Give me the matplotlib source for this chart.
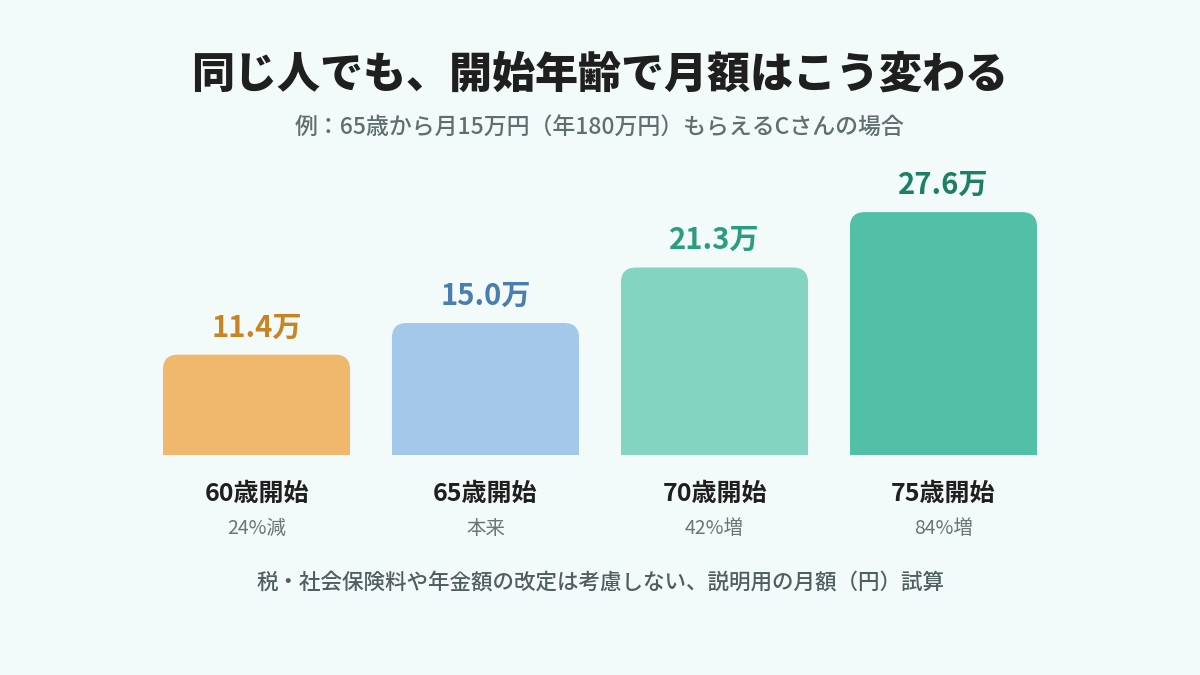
import matplotlib.pyplot as plt
from matplotlib.patches import FancyBboxPatch, Rectangle

plt.rcParams['font.family'] = ['Noto Sans CJK JP', 'DejaVu Sans']

# データ
categories = ['60歳開始', '65歳開始', '70歳開始', '75歳開始']
values = [11.4, 15.0, 21.3, 27.6]
notes = ['24%減', '本来', '42%増', '84%増']
bar_colors = ['#F0B86C', '#A3C8EA', '#84D4C2', '#52C0A6']
label_colors = ['#C98422', '#4A7DB0', '#2A9C80', '#1E7F66']

bg = '#F3FAFA'
fig = plt.figure(figsize=(12, 6.75), dpi=100, facecolor=bg)
ax = fig.add_axes([142 / 1200, 220 / 675, 916 / 1200, 295 / 675])
ax.set_facecolor(bg)
ax.set_xlim(-0.5, 3.5)
ax.set_ylim(0, 33.52)
ax.axis('off')

width = 0.817
rad = 0.065
aspect = 26
for i, (v, c) in enumerate(zip(values, bar_colors)):
    x0 = i - width / 2
    box = FancyBboxPatch((x0 + rad, rad * aspect), width - 2 * rad, v - 2 * rad * aspect,
                         boxstyle=f'round,pad={rad}', mutation_aspect=aspect,
                         fc=c, ec='none')
    ax.add_patch(box)
    ax.add_patch(Rectangle((x0, 0), width, v / 2, fc=c, ec='none'))
    ax.text(i, v + 1.4, f'{v:.1f}万', ha='center', va='bottom', fontsize=21,
            fontweight='bold', color=label_colors[i])
    ax.text(i, -4.4, categories[i], ha='center', va='center', fontsize=18,
            fontweight='bold', color='#1f1f1f')
    ax.text(i, -8.4, notes[i], ha='center', va='center', fontsize=14,
            color='#6a7676')

fig.text(0.5, 1 - 75 / 675, '同じ人でも、開始年齢で月額はこう変わる', ha='center', va='center',
         fontsize=31, fontweight='black', color='#1f1f1f')
fig.text(0.5, 1 - 128 / 675, '例：65歳から月15万円（年180万円）もらえるCさんの場合', ha='center',
         va='center', fontsize=16.5, fontweight='medium', color='#5f6f6f')
fig.text(0.5, 1 - 583 / 675, '税・社会保険料や年金額の改定は考慮しない、説明用の月額（円）試算',
         ha='center', va='center', fontsize=15.5, fontweight='medium', color='#4f5f5f')

fig.savefig('out.png', dpi=100, facecolor=bg)
